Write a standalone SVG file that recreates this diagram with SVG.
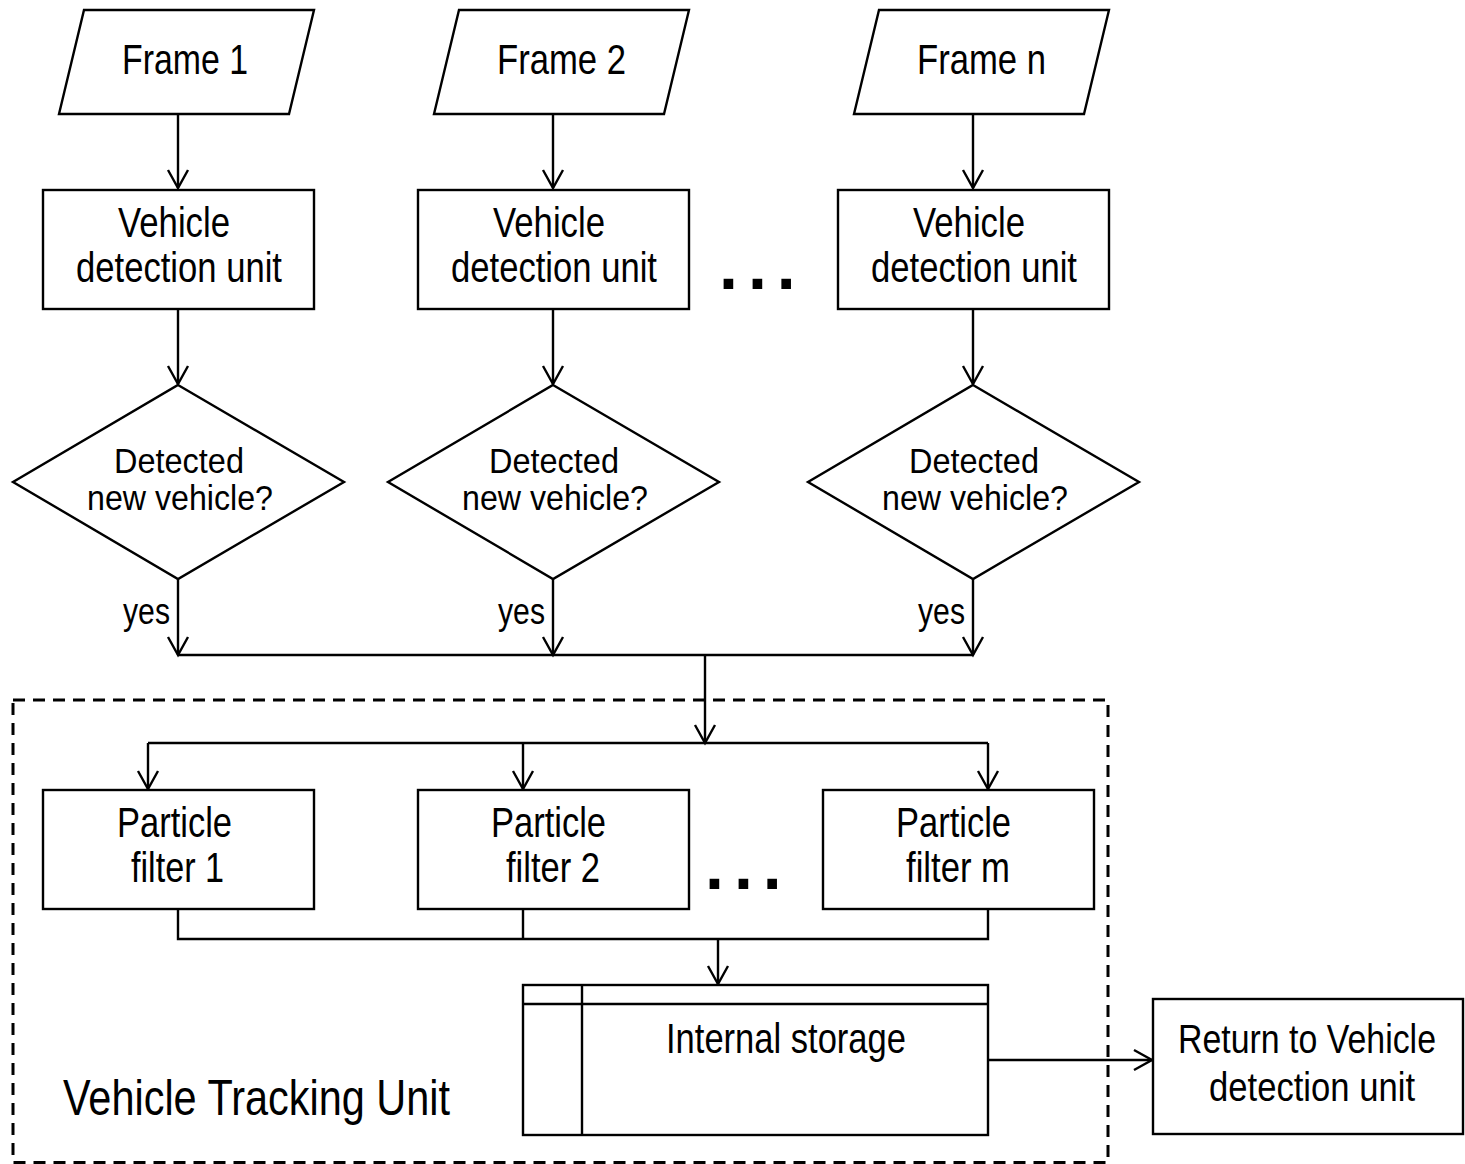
<svg xmlns="http://www.w3.org/2000/svg" width="1465" height="1164" viewBox="0 0 1465 1164">
<defs>
<marker id="arr" markerUnits="userSpaceOnUse" markerWidth="40" markerHeight="40" viewBox="-20 -20 40 40" refX="0" refY="0" orient="auto" overflow="visible">
<path d="M-18,-10 L0,0 L-18,10" fill="none" stroke="#000" stroke-width="2.4"/>
</marker>
<style>
.s{fill:#fff;stroke:#000;stroke-width:2.4}
.c{fill:none;stroke:#000;stroke-width:2.4}
.t{font-family:"Liberation Sans",Arial,sans-serif;fill:#000}
.f42{font-size:42px}
.f35{font-size:35px}
.f36{font-size:36px}
.f40{font-size:40px}
.f50{font-size:50px}
.dots{font-family:"Liberation Sans",Arial,sans-serif;font-size:68px;font-weight:bold;letter-spacing:10px}
</style>
</defs>
<rect width="1465" height="1164" fill="#fff"/>

<g id="tracking-unit">
<rect x="13" y="700" width="1095" height="462.5" fill="none" stroke="#000" stroke-width="3" stroke-dasharray="12 8"/>
<text class="t f50" x="63" y="1115" textLength="387" lengthAdjust="spacingAndGlyphs">Vehicle Tracking Unit</text>
</g>

<g id="connectors">
<line class="c" x1="178" y1="114" x2="178" y2="188" marker-end="url(#arr)"/>
<line class="c" x1="553" y1="114" x2="553" y2="188" marker-end="url(#arr)"/>
<line class="c" x1="973" y1="114" x2="973" y2="188" marker-end="url(#arr)"/>
<line class="c" x1="178" y1="309" x2="178" y2="384" marker-end="url(#arr)"/>
<line class="c" x1="553" y1="309" x2="553" y2="384" marker-end="url(#arr)"/>
<line class="c" x1="973" y1="309" x2="973" y2="384" marker-end="url(#arr)"/>
<line class="c" x1="178" y1="579" x2="178" y2="655" marker-end="url(#arr)"/>
<line class="c" x1="553" y1="579" x2="553" y2="655" marker-end="url(#arr)"/>
<line class="c" x1="973" y1="579" x2="973" y2="655" marker-end="url(#arr)"/>
<line class="c" x1="178" y1="655" x2="973" y2="655"/>
<line class="c" x1="705" y1="655" x2="705" y2="743" marker-end="url(#arr)"/>
<line class="c" x1="148" y1="743" x2="988" y2="743"/>
<line class="c" x1="148" y1="743" x2="148" y2="789" marker-end="url(#arr)"/>
<line class="c" x1="523" y1="743" x2="523" y2="789" marker-end="url(#arr)"/>
<line class="c" x1="988" y1="743" x2="988" y2="789" marker-end="url(#arr)"/>
<polyline class="c" points="178,909 178,939 988,939 988,909"/>
<line class="c" x1="523" y1="909" x2="523" y2="939"/>
<line class="c" x1="718" y1="939" x2="718" y2="984" marker-end="url(#arr)"/>
<line class="c" x1="988" y1="1060" x2="1152" y2="1060" marker-end="url(#arr)"/>
<text class="t f36" x="123" y="624" textLength="47" lengthAdjust="spacingAndGlyphs">yes</text>
<text class="t f36" x="498" y="624" textLength="47" lengthAdjust="spacingAndGlyphs">yes</text>
<text class="t f36" x="918" y="624" textLength="47" lengthAdjust="spacingAndGlyphs">yes</text>
</g>

<g id="frame1">
<polygon class="s" points="84,10 314,10 289,114 59,114"/>
<text class="t f42" x="122" y="74" textLength="126" lengthAdjust="spacingAndGlyphs">Frame 1</text>
</g>
<g id="frame2">
<polygon class="s" points="459,10 689,10 664,114 434,114"/>
<text class="t f42" x="497" y="74" textLength="129" lengthAdjust="spacingAndGlyphs">Frame 2</text>
</g>
<g id="framen">
<polygon class="s" points="879,10 1109,10 1084,114 854,114"/>
<text class="t f42" x="917" y="74" textLength="129" lengthAdjust="spacingAndGlyphs">Frame n</text>
</g>

<g id="detect1">
<rect class="s" x="43" y="190" width="271" height="119"/>
<text class="t f42" x="118" y="237" textLength="112" lengthAdjust="spacingAndGlyphs">Vehicle</text>
<text class="t f42" x="76" y="282" textLength="206" lengthAdjust="spacingAndGlyphs">detection unit</text>
</g>
<g id="detect2">
<rect class="s" x="418" y="190" width="271" height="119"/>
<text class="t f42" x="493" y="237" textLength="112" lengthAdjust="spacingAndGlyphs">Vehicle</text>
<text class="t f42" x="451" y="282" textLength="206" lengthAdjust="spacingAndGlyphs">detection unit</text>
</g>
<g id="detect3">
<rect class="s" x="838" y="190" width="271" height="119"/>
<text class="t f42" x="913" y="237" textLength="112" lengthAdjust="spacingAndGlyphs">Vehicle</text>
<text class="t f42" x="871" y="282" textLength="206" lengthAdjust="spacingAndGlyphs">detection unit</text>
</g>
<text class="dots" x="719" y="289">...</text>

<g id="decision1">
<polygon class="s" points="178,385 344,482 178,579 13,482"/>
<text class="t f35" x="114" y="473" textLength="130" lengthAdjust="spacingAndGlyphs">Detected</text>
<text class="t f35" x="87" y="510" textLength="186" lengthAdjust="spacingAndGlyphs">new vehicle?</text>
</g>
<g id="decision2">
<polygon class="s" points="553,385 719,482 553,579 388,482"/>
<text class="t f35" x="489" y="473" textLength="130" lengthAdjust="spacingAndGlyphs">Detected</text>
<text class="t f35" x="462" y="510" textLength="186" lengthAdjust="spacingAndGlyphs">new vehicle?</text>
</g>
<g id="decision3">
<polygon class="s" points="973,385 1139,482 973,579 808,482"/>
<text class="t f35" x="909" y="473" textLength="130" lengthAdjust="spacingAndGlyphs">Detected</text>
<text class="t f35" x="882" y="510" textLength="186" lengthAdjust="spacingAndGlyphs">new vehicle?</text>
</g>

<g id="pf1">
<rect class="s" x="43" y="790" width="271" height="119"/>
<text class="t f42" x="117" y="837" textLength="115" lengthAdjust="spacingAndGlyphs">Particle</text>
<text class="t f42" x="131" y="882" textLength="93" lengthAdjust="spacingAndGlyphs">filter 1</text>
</g>
<g id="pf2">
<rect class="s" x="418" y="790" width="271" height="119"/>
<text class="t f42" x="491" y="837" textLength="115" lengthAdjust="spacingAndGlyphs">Particle</text>
<text class="t f42" x="506" y="882" textLength="94" lengthAdjust="spacingAndGlyphs">filter 2</text>
</g>
<g id="pfm">
<rect class="s" x="823" y="790" width="271" height="119"/>
<text class="t f42" x="896" y="837" textLength="115" lengthAdjust="spacingAndGlyphs">Particle</text>
<text class="t f42" x="906" y="882" textLength="104" lengthAdjust="spacingAndGlyphs">filter m</text>
</g>
<text class="dots" x="705" y="889">...</text>

<g id="storage">
<rect class="s" x="523" y="985" width="465" height="150"/>
<line class="c" x1="523" y1="1004" x2="988" y2="1004"/>
<line class="c" x1="582" y1="985" x2="582" y2="1135"/>
<text class="t f42" x="666" y="1053" textLength="240" lengthAdjust="spacingAndGlyphs">Internal storage</text>
</g>

<g id="return">
<rect class="s" x="1153" y="999" width="310" height="135"/>
<text class="t f40" x="1178" y="1053" textLength="258" lengthAdjust="spacingAndGlyphs">Return to Vehicle</text>
<text class="t f40" x="1209" y="1101" textLength="206" lengthAdjust="spacingAndGlyphs">detection unit</text>
</g>
</svg>
